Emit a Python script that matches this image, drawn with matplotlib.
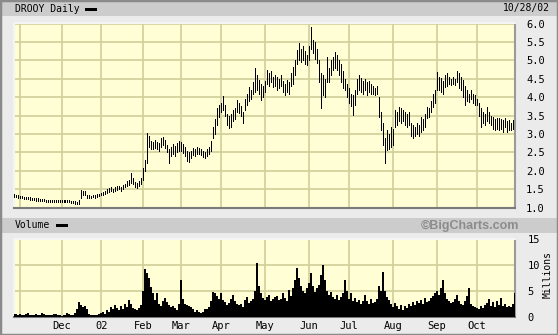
import matplotlib.pyplot as plt
from matplotlib.patches import Rectangle

# daily bars, 10/29/01 .. 10/28/02 (trading days only)
high = [1.37, 1.35, 1.33,
        1.32, 1.31, 1.30, 1.30, 1.29, 1.28, 1.27, 1.26, 1.26, 1.25, 1.24, 1.24, 1.23, 1.22,
        1.21, 1.21, 1.20, 1.20, 1.21, 1.20, 1.21,
        1.21, 1.20, 1.20, 1.21, 1.20, 1.19, 1.18, 1.17, 1.15, 1.20,
        1.48, 1.45, 1.44, 1.34, 1.33, 1.32, 1.34, 1.33, 1.36, 1.38,
        1.40, 1.42, 1.45, 1.50, 1.52, 1.55, 1.50, 1.55, 1.58, 1.60, 1.56, 1.62, 1.65,
        1.72, 1.75, 1.94, 1.80, 1.70, 1.68, 1.72, 1.80,
        2.08, 2.30, 3.03, 2.95, 2.80, 2.78, 2.85, 2.78, 2.75, 2.88, 2.92, 2.85,
        2.70, 2.60, 2.65, 2.72, 2.68, 2.75, 2.80,
        2.78, 2.72, 2.65, 2.55, 2.50, 2.55, 2.62, 2.60, 2.65, 2.62,
        2.60, 2.55, 2.52, 2.58, 2.65, 2.80, 3.20, 3.40, 3.70, 3.80,
        3.85, 4.03, 3.80, 3.55, 3.50, 3.55, 3.65, 3.70, 3.92, 3.85, 3.75, 3.60,
        3.95, 4.10, 4.28, 4.20, 4.40, 4.79, 4.60, 4.47, 4.35, 4.30,
        4.45, 4.74, 4.65, 4.70, 4.55, 4.60, 4.55, 4.50, 4.60, 4.45,
        4.35, 4.47, 4.40, 4.65, 4.83, 5.00, 5.28, 5.47, 5.30, 5.40, 5.25,
        5.15, 5.40, 5.90, 5.55, 5.50, 5.30, 5.00, 4.66, 4.60, 4.50, 5.10,
        4.80, 5.00, 5.10, 5.23, 5.15, 5.00, 4.90, 4.70, 4.50,
        4.35, 4.25, 4.10, 4.05, 4.20, 4.50, 4.60, 4.52, 4.45, 4.50, 4.40, 4.45,
        4.35, 4.30, 4.25, 4.30, 4.00, 3.60, 3.30, 2.90, 3.10, 3.00, 3.20,
        3.15, 3.65, 3.60, 3.73, 3.70, 3.65, 3.60, 3.55, 3.60,
        3.30, 3.25, 3.20, 3.30, 3.25, 3.46, 3.40, 3.55, 3.73, 3.70, 3.90, 4.10,
        4.20, 4.68, 4.55, 4.52, 4.45, 4.60, 4.65, 4.55, 4.50, 4.55, 4.50, 4.70,
        4.65, 4.55, 4.47, 4.30, 4.20, 4.10, 4.20, 4.10, 4.05,
        3.95, 3.84, 3.70, 3.60, 3.55, 3.73, 3.60, 3.50, 3.46, 3.40, 3.43,
        3.43, 3.40, 3.38, 3.43, 3.35, 3.38, 3.30, 3.38, 3.35]

low = [1.30, 1.29, 1.27,
       1.25, 1.25, 1.23, 1.24, 1.23, 1.22, 1.21, 1.20, 1.19, 1.19, 1.18, 1.17, 1.17, 1.16,
       1.15, 1.15, 1.14, 1.14, 1.15, 1.14, 1.15,
       1.15, 1.14, 1.15, 1.15, 1.14, 1.13, 1.12, 1.11, 1.10, 1.10,
       1.25, 1.35, 1.33, 1.27, 1.26, 1.27, 1.28, 1.27, 1.29, 1.31,
       1.33, 1.35, 1.38, 1.40, 1.43, 1.45, 1.42, 1.45, 1.48, 1.50, 1.46, 1.50, 1.55,
       1.58, 1.62, 1.68, 1.65, 1.55, 1.53, 1.58, 1.65,
       1.75, 2.00, 2.20, 2.65, 2.58, 2.60, 2.62, 2.58, 2.55, 2.65, 2.70, 2.62,
       2.50, 2.22, 2.40, 2.45, 2.40, 2.50, 2.55,
       2.55, 2.48, 2.40, 2.28, 2.25, 2.35, 2.42, 2.40, 2.45, 2.45,
       2.42, 2.38, 2.35, 2.40, 2.45, 2.55, 2.90, 3.00, 3.25, 3.45,
       3.60, 3.65, 3.50, 3.25, 3.16, 3.20, 3.35, 3.40, 3.60, 3.57, 3.50, 3.30,
       3.65, 3.80, 3.90, 3.95, 4.10, 4.15, 4.20, 4.10, 3.92, 4.00,
       4.15, 4.35, 4.30, 4.40, 4.28, 4.30, 4.20, 4.25, 4.30, 4.15,
       4.06, 4.15, 4.10, 4.30, 4.35, 4.60, 4.90, 5.00, 4.95, 5.00, 4.90,
       4.87, 5.00, 5.30, 5.20, 5.05, 4.93, 4.40, 3.70, 4.05, 4.00, 4.40,
       4.40, 4.60, 4.75, 4.80, 4.75, 4.60, 4.40, 4.25, 4.20,
       4.00, 3.85, 3.75, 3.52, 3.80, 4.10, 4.20, 4.15, 4.10, 4.20, 4.06, 4.15,
       4.10, 4.08, 4.06, 4.10, 3.46, 3.10, 2.70, 2.20, 2.57, 2.60, 2.64,
       2.70, 3.20, 3.25, 3.35, 3.30, 3.35, 3.25, 3.20, 3.25,
       2.95, 2.90, 2.95, 3.00, 2.95, 3.05, 3.10, 3.20, 3.43, 3.45, 3.60, 3.73,
       3.85, 4.20, 4.20, 4.15, 4.10, 4.28, 4.30, 4.35, 4.33, 4.35, 4.33, 4.40,
       4.25, 4.20, 4.00, 3.79, 3.90, 3.87, 3.95, 3.85, 3.79,
       3.80, 3.50, 3.19, 3.30, 3.24, 3.35, 3.30, 3.24, 3.15, 3.10, 3.15,
       3.10, 3.15, 3.05, 3.20, 3.05, 3.10, 3.10, 3.15, 3.15]

# volume, millions of shares
volume = [0.6, 0.5, 0.4,
          0.5, 0.4, 0.3, 0.5, 0.7, 0.4, 0.3, 0.4, 0.5, 0.3, 0.4, 0.8, 0.5, 0.4,
          0.3, 0.4, 0.3, 0.5, 0.6, 0.4, 0.3,
          0.2, 0.3, 0.4, 0.7, 0.5, 0.3, 0.4, 0.8, 1.5, 2.9,
          2.2, 1.8, 2.0, 1.5, 0.6, 0.4, 0.3, 0.3, 0.4, 0.5,
          0.8, 1.0, 0.6, 1.2, 0.9, 1.8, 1.4, 2.2, 1.6, 1.2, 2.0, 1.5, 2.4,
          1.8, 3.2, 2.5, 1.7, 1.4, 1.2, 1.6, 2.2,
          5.0, 9.3, 8.4, 7.4, 5.7, 4.5, 3.2, 4.6, 2.5, 2.0, 3.0, 3.6,
          2.8, 2.2, 1.9, 2.0, 1.6, 1.3, 2.5,
          7.0, 3.5, 2.4, 2.2, 2.0, 1.8, 1.4, 1.0, 1.2, 0.9,
          0.8, 1.0, 1.5, 1.4, 1.8, 3.0, 4.8, 4.5, 4.0, 3.5,
          4.6, 3.2, 2.8, 2.2, 2.6, 3.4, 4.2, 3.0, 2.5, 2.2, 2.4, 1.9,
          3.2, 3.8, 2.6, 3.0, 3.4, 5.0, 10.3, 6.0, 4.5, 3.6,
          3.2, 3.8, 4.2, 3.0, 3.5, 3.8, 4.0, 3.2, 3.5, 4.5,
          3.6, 3.0, 5.2, 4.0, 5.5, 7.0, 9.5, 7.5, 6.0, 5.0, 4.5,
          5.5, 6.5, 8.5, 6.0, 4.8, 5.5, 6.2, 8.0, 10.0, 7.0, 5.0,
          4.2, 4.8, 3.8, 3.5, 4.2, 3.2, 3.8, 4.5, 7.0,
          5.0, 3.5, 4.5, 3.0, 3.6, 2.8, 3.2, 2.5, 3.0, 4.2, 3.0, 2.4,
          3.4, 2.6, 2.8, 3.5, 6.0, 5.0, 8.6, 5.0, 3.8, 3.2, 2.5,
          1.9, 2.6, 2.0, 1.5, 2.2, 1.2, 2.0, 1.6, 2.4,
          2.0, 2.8, 2.2, 3.0, 2.6, 3.2, 2.4, 3.6, 2.8, 3.0, 3.6, 4.0,
          4.5, 5.0, 4.2, 5.5, 7.0, 4.5, 3.5, 3.0, 2.6, 2.8, 3.4, 4.2,
          3.0, 2.4, 2.2, 3.0, 4.0, 5.5, 2.5, 2.0, 1.8,
          1.6, 1.5, 2.0, 1.7, 2.2, 2.6, 3.5, 2.0, 2.8, 1.8, 3.0,
          2.2, 3.6, 2.0, 2.5, 1.8, 2.1, 1.9, 2.5, 4.6]

# first trading day of each month and its label
month_idx = [3, 24, 44, 65, 84, 104, 126, 148, 168, 190, 212, 232]
month_lab = ['', 'Dec', '02', 'Feb', 'Mar', 'Apr', 'May', 'Jun', 'Jul', 'Aug', 'Sep', 'Oct']

price_ticks = [1.0, 1.5, 2.0, 2.5, 3.0, 3.5, 4.0, 4.5, 5.0, 5.5, 6.0]
vol_ticks = [0, 5, 10, 15]

W, H = 558, 335
bg = '#fffed4'
grid_c = '#cfcf98'
mono = 'DejaVu Sans Mono'

fig = plt.figure(figsize=(W / 100, H / 100), dpi=100)
fig.patch.set_facecolor('#ebebeb')


def fy(y):
    return 1 - y / H


def px_axes(x0, y0, x1, y1):
    return fig.add_axes([x0 / W, fy(y1), (x1 - x0) / W, (y1 - y0) / H])


# gray header strips
fig.add_artist(Rectangle((0, fy(16)), 1, 15 / H, transform=fig.transFigure,
                         facecolor='#cccccc', edgecolor='none'))
fig.add_artist(Rectangle((0, fy(233)), 1, 15 / H, transform=fig.transFigure,
                         facecolor='#cccccc', edgecolor='none'))
# outer border
fig.add_artist(Rectangle((0, 0), 1, 1, transform=fig.transFigure,
                         facecolor='none', edgecolor='#8a8a8a', linewidth=2.5))

x = list(range(len(high)))

# price pane
ax = px_axes(14, 22.5, 515, 208)
ax.set_facecolor(bg)
ax.vlines(x, low, high, color='black', linewidth=0.72, antialiased=False, zorder=3)
ax.set_xlim(0.2, 251.2)
ax.set_ylim(0.99, 6.03)
ax.set_xticks(month_idx)
ax.set_xticklabels([])
ax.set_yticks(price_ticks)
ax.set_yticklabels(['%.1f' % t for t in price_ticks], family=mono, fontsize=7.5)
ax.yaxis.tick_right()
ax.tick_params(length=0, pad=8)
ax.grid(True, color=grid_c, linewidth=1.2)
ax.set_axisbelow(True)

# volume pane
axv = px_axes(14, 238.5, 515, 316.7)
axv.set_facecolor(bg)
axv.bar(x, volume, width=1.0, color='black', linewidth=0, antialiased=False, zorder=3)
axv.set_xlim(0.2, 251.2)
axv.set_ylim(0, 15.1)
axv.set_xticks(month_idx)
axv.set_xticklabels(month_lab, family=mono, fontsize=7.5)
axv.set_yticks(vol_ticks)
axv.set_yticklabels([str(t) for t in vol_ticks], family=mono, fontsize=7.5)
axv.yaxis.tick_right()
axv.tick_params(axis='y', length=0, pad=9)
axv.tick_params(axis='x', length=0, pad=3)
axv.grid(True, color=grid_c, linewidth=1.2)
axv.set_axisbelow(True)

for a in (ax, axv):
    a.spines['top'].set_color('#f4f4f4')
    a.spines['left'].set_color('#f4f4f4')
    a.spines['bottom'].set_color('#7a7a7a')
    a.spines['right'].set_color('#9a9a9a')
    for s in a.spines.values():
        s.set_linewidth(1.5)

# header texts
fig.text(15 / W, fy(8.5), 'DROOY Daily', family=mono, fontsize=7, va='center')
fig.add_artist(Rectangle((85 / W, fy(10.5)), 12 / W, 3 / H, transform=fig.transFigure,
                         facecolor='black', edgecolor='none'))
fig.text(550 / W, fy(8.5), '10/28/02', family=mono, fontsize=7, va='center', ha='right')

fig.text(15 / W, fy(225.5), 'Volume', family=mono, fontsize=7, va='center')
fig.add_artist(Rectangle((56 / W, fy(226.7)), 12 / W, 3 / H, transform=fig.transFigure,
                         facecolor='black', edgecolor='none'))
fig.text(470 / W, fy(225.5), '\u00a9BigCharts.com', family='Liberation Sans',
         fontsize=9, fontweight='bold', color='#8c8c8c', va='center', ha='center')
fig.text(548 / W, fy(275), 'Millions', family=mono, fontsize=7, rotation=90,
         va='center', ha='center')

plt.savefig('out.png', dpi=100, facecolor=fig.get_facecolor())
